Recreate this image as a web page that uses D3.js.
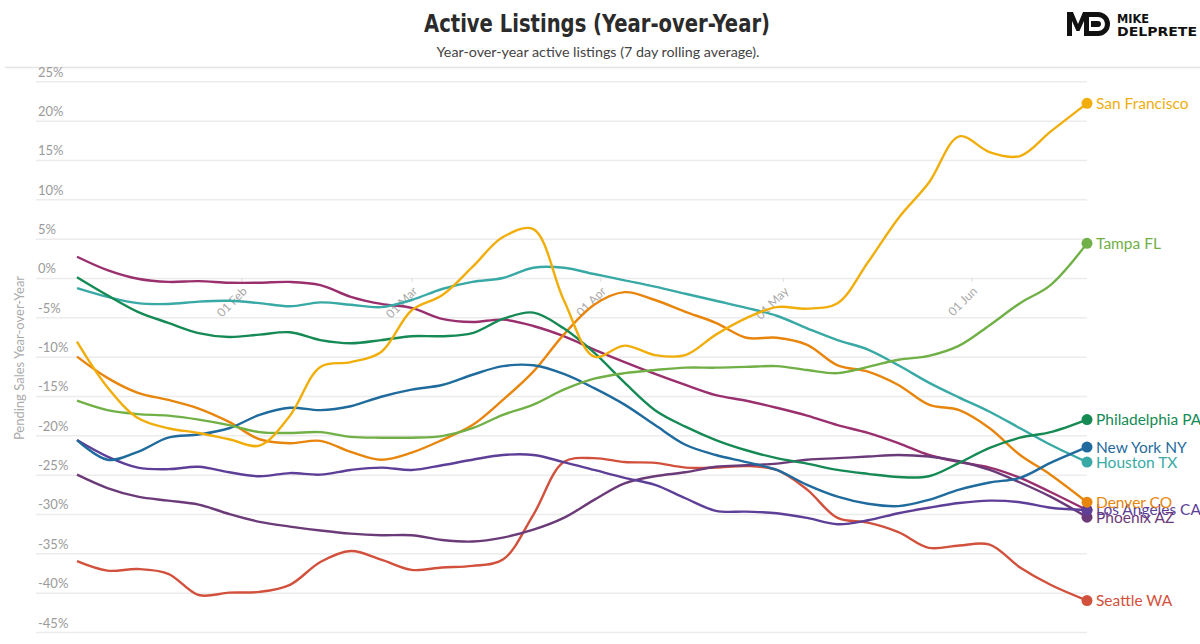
<!DOCTYPE html>
<html>
<head>
<meta charset="utf-8">
<script src="https://cdn.jsdelivr.net/npm/d3@7"></script>
<style>
  body { margin: 0; background: #fff; }
  svg { display: block; }
</style>
</head>
<body>
<svg id="chart" width="1200" height="644"></svg>
<script>
// sample dates (7 day rolling average, read every 5 days)
const dates = ['2022-01-05', '2022-01-10', '2022-01-15', '2022-01-20', '2022-01-25', '2022-01-30',
  '2022-02-04', '2022-02-09', '2022-02-14', '2022-02-19', '2022-02-24', '2022-03-01',
  '2022-03-06', '2022-03-11', '2022-03-16', '2022-03-21', '2022-03-26', '2022-03-31',
  '2022-04-05', '2022-04-10', '2022-04-15', '2022-04-20', '2022-04-25', '2022-04-30',
  '2022-05-05', '2022-05-10', '2022-05-15', '2022-05-20', '2022-05-25', '2022-05-30',
  '2022-06-04', '2022-06-09', '2022-06-14', '2022-06-20'];

const yTicks = [25, 20, 15, 10, 5, 0, -5, -10, -15, -20, -25, -30, -35, -40, -45];
const xTicks = ['2022-02-01', '2022-03-01', '2022-04-01', '2022-05-01', '2022-06-01'];

const sanFrancisco = [-8.1, -13.9, -17.8, -19.1, -19.7, -20.5, -21.3, -17.5, -11.3, -10.7, -9.4, -4.1,
  -2.2, 1.4, 5.2, 6.2, -2.8, -10.0, -8.6, -9.8, -9.8, -7.2, -5.1, -3.7,
  -3.9, -3.2, 2.0, 7.6, 12.1, 18.0, 16.0, 15.5, 18.6, 22.2];
const tampa = [-15.6, -16.8, -17.3, -17.5, -18.0, -18.7, -19.6, -19.7, -19.6, -20.2, -20.3, -20.3,
  -20.1, -19.1, -17.4, -16.1, -14.2, -12.8, -12.1, -11.7, -11.4, -11.4, -11.3, -11.2,
  -11.7, -12.1, -11.3, -10.4, -9.9, -8.6, -6.0, -3.2, -0.9, 4.4];
const philadelphia = [0.1, -2.2, -4.3, -5.7, -7.0, -7.5, -7.2, -6.9, -7.9, -8.3, -7.9, -7.4,
  -7.4, -7.0, -5.2, -4.4, -6.4, -9.5, -13.3, -16.8, -18.9, -20.6, -21.9, -22.9,
  -23.6, -24.4, -24.9, -25.3, -25.2, -23.5, -21.6, -20.3, -19.6, -18.0];
const newYork = [-20.6, -23.1, -22.1, -20.3, -19.9, -19.1, -17.4, -16.5, -16.8, -16.3, -15.1, -14.2,
  -13.6, -12.3, -11.2, -11.1, -12.2, -14.0, -16.1, -18.7, -21.2, -22.5, -23.4, -24.4,
  -26.3, -27.8, -28.7, -29.0, -28.2, -26.9, -26.0, -25.4, -23.5, -21.5];
const houston = [-1.3, -2.4, -3.2, -3.3, -3.0, -2.9, -3.2, -3.6, -3.1, -3.4, -3.7, -2.8,
  -1.4, -0.5, 0.0, 1.3, 1.3, 0.5, -0.3, -1.1, -2.0, -2.9, -3.8, -4.8,
  -6.4, -7.9, -9.1, -11.1, -13.3, -15.2, -17.0, -19.1, -21.2, -23.4];
const denver = [-10.0, -12.7, -14.6, -15.5, -16.6, -18.3, -20.5, -21.0, -20.7, -22.1, -23.1, -22.2,
  -20.6, -18.7, -15.5, -11.9, -7.2, -3.4, -1.8, -2.8, -4.3, -5.7, -7.6, -7.6,
  -8.5, -11.1, -11.9, -13.6, -16.1, -16.8, -19.1, -22.5, -25.0, -28.5];
// magenta series: its label is hidden under Los Angeles CA in the reference
const magenta = [2.7, 1.0, -0.1, -0.5, -0.4, -0.6, -0.6, -0.5, -0.9, -2.4, -3.3, -3.8,
  -5.2, -5.6, -5.3, -6.1, -7.4, -9.1, -10.7, -12.2, -13.6, -14.9, -15.6, -16.5,
  -17.5, -18.7, -19.7, -21.0, -22.5, -23.4, -24.1, -25.4, -27.2, -29.5];
const losAngeles = [-20.6, -22.7, -24.1, -24.3, -24.0, -24.7, -25.2, -24.8, -25.0, -24.4, -24.1, -24.4,
  -23.8, -23.1, -22.5, -22.5, -23.4, -24.4, -25.4, -26.3, -28.0, -29.6, -29.7, -29.9,
  -30.5, -31.3, -30.8, -29.9, -29.2, -28.6, -28.3, -28.5, -29.2, -29.5];
const phoenix = [-25.0, -26.7, -27.8, -28.3, -28.8, -30.0, -31.0, -31.6, -32.1, -32.5, -32.7, -32.7,
  -33.3, -33.5, -33.0, -32.0, -30.5, -28.2, -26.1, -25.2, -24.7, -24.0, -23.8, -23.6,
  -23.1, -22.9, -22.7, -22.5, -22.7, -23.3, -24.4, -26.0, -27.8, -30.4];
const seattle = [-36.0, -37.2, -37.0, -37.6, -40.3, -40.0, -39.9, -39.0, -36.1, -34.7, -35.8, -37.1,
  -36.8, -36.6, -35.8, -30.1, -23.4, -22.9, -23.4, -23.5, -24.1, -24.1, -23.9, -24.4,
  -26.9, -30.5, -31.1, -32.3, -34.3, -34.0, -33.9, -36.8, -39.0, -41.0];

const seriesNames = ['', 'Seattle WA', 'Phoenix AZ', 'Los Angeles CA', 'Denver CO',
  'Houston TX', 'New York NY', 'Philadelphia PA', 'Tampa FL', 'San Francisco'];
const seriesValues = [magenta, seattle, phoenix, losAngeles, denver,
  houston, newYork, philadelphia, tampa, sanFrancisco];
const seriesColors = ['#9a2f6e', '#d2513d', '#6b3a78', '#5d3f97', '#e8850c',
  '#39a9a6', '#1f6b9d', '#168a54', '#71b046', '#f1ae0b'];

const parse = d3.timeParse('%Y-%m-%d');
const font = 'Lato, "Open Sans", sans-serif';

const svg = d3.select('#chart');

// header
svg.append('text')
  .attr('x', 597).attr('y', 32)
  .attr('text-anchor', 'middle')
  .attr('font-family', '"Liberation Sans Narrow", "DejaVu Sans Condensed", sans-serif')
  .attr('font-weight', 'bold')
  .attr('font-size', 25)
  .attr('fill', '#2b2b2b')
  .attr('textLength', 346).attr('lengthAdjust', 'spacingAndGlyphs')
  .text('Active Listings (Year-over-Year)');

svg.append('text')
  .attr('x', 598).attr('y', 57)
  .attr('text-anchor', 'middle')
  .attr('font-family', font)
  .attr('font-size', 14)
  .attr('fill', '#444')
  .attr('textLength', 323).attr('lengthAdjust', 'spacingAndGlyphs')
  .text('Year-over-year active listings (7 day rolling average).');

svg.append('line')
  .attr('x1', 5).attr('x2', 1200).attr('y1', 67.5).attr('y2', 67.5)
  .attr('stroke', '#e4e4e4').attr('stroke-width', 1.5);

// logo
const logo = svg.append('g').attr('transform', 'translate(1067,12)');
logo.append('path')
  .attr('d', 'M0,24 V0 H6 L11,12 L16,0 H22 V24 H17 V9 L12.5,19 H9.5 L5,9 V24 Z')
  .attr('fill', '#111');
logo.append('path')
  .attr('d', 'M22,0 H31 A12,12 0 0 1 31,24 H22 V19 H31 A7,7 0 0 0 31,5 H22 Z M24,9 H31 A3,3 0 0 1 31,15 H24 Z')
  .attr('fill', '#111');
logo.append('text').attr('x', 50).attr('y', 11)
  .attr('font-family', '"DejaVu Sans Condensed", sans-serif').attr('font-weight', 'bold')
  .attr('font-size', 12).attr('fill', '#111')
  .attr('textLength', 32).attr('lengthAdjust', 'spacingAndGlyphs').text('MIKE');
logo.append('text').attr('x', 50).attr('y', 24)
  .attr('font-family', '"DejaVu Sans Condensed", sans-serif').attr('font-weight', 'bold')
  .attr('font-size', 12).attr('fill', '#111')
  .attr('textLength', 80).attr('lengthAdjust', 'spacingAndGlyphs').text('DELPRETE');

// scales
const x = d3.scaleTime()
  .domain([parse(dates[0]), parse(dates[dates.length - 1])])
  .range([77, 1087]);
const y = d3.scaleLinear().domain([-45, 25]).range([632, 81.3]);

// y grid + labels
const yAxis = svg.append('g').attr('transform', 'translate(36,0)')
  .call(d3.axisRight(y).tickValues(yTicks).tickSize(1051).tickFormat(d => d + '%'));
yAxis.select('.domain').remove();
yAxis.selectAll('.tick line').attr('stroke', '#ececec').attr('stroke-width', 1.5);
yAxis.selectAll('.tick text')
  .attr('x', 2).attr('dy', -5)
  .attr('font-family', font).attr('font-size', 13).attr('fill', '#9a9a9a');

svg.append('text')
  .attr('transform', `translate(24,${358}) rotate(-90)`)
  .attr('text-anchor', 'middle')
  .attr('font-family', font).attr('font-size', 13).attr('fill', '#aaa')
  .text('Pending Sales Year-over-Year');

// x axis sits on the 0% line
const xAxis = svg.append('g').attr('transform', `translate(0,${y(0)})`)
  .call(d3.axisBottom(x).tickValues(xTicks.map(parse)).tickSize(4).tickFormat(d3.timeFormat('%d %b')));
xAxis.select('.domain').remove();
xAxis.selectAll('.tick line').attr('stroke', '#ddd');
xAxis.selectAll('.tick text')
  .attr('font-family', font).attr('font-size', 12).attr('fill', '#aaa')
  .attr('text-anchor', 'end')
  .attr('y', 0).attr('dy', 0)
  .attr('transform', 'translate(6,14) rotate(-45)');

// lines
const line = d3.line()
  .x((d, i) => x(parse(dates[i])))
  .y(d => y(d))
  .curve(d3.curveCatmullRom.alpha(0.5));

const series = seriesNames.map((name, i) => ({ name, values: seriesValues[i], color: seriesColors[i] }));

svg.append('g')
  .selectAll('path')
  .data(series)
  .enter()
  .append('path')
  .attr('d', d => line(d.values))
  .attr('fill', 'none')
  .attr('stroke', d => d.color)
  .attr('stroke-width', 2.4);

// end dots + labels
const ends = svg.append('g')
  .selectAll('g')
  .data(series)
  .enter()
  .append('g')
  .attr('transform', d => `translate(${x(parse(dates[dates.length - 1]))},${y(d.values[d.values.length - 1])})`);

ends.append('circle').attr('r', 5.5).attr('fill', d => d.color);
ends.filter(d => d.name !== '')
  .append('text')
  .attr('x', 9).attr('dy', '0.35em')
  .attr('font-family', font).attr('font-size', 15.5)
  .attr('fill', d => d.color)
  .text(d => d.name);
</script>
</body>
</html>
